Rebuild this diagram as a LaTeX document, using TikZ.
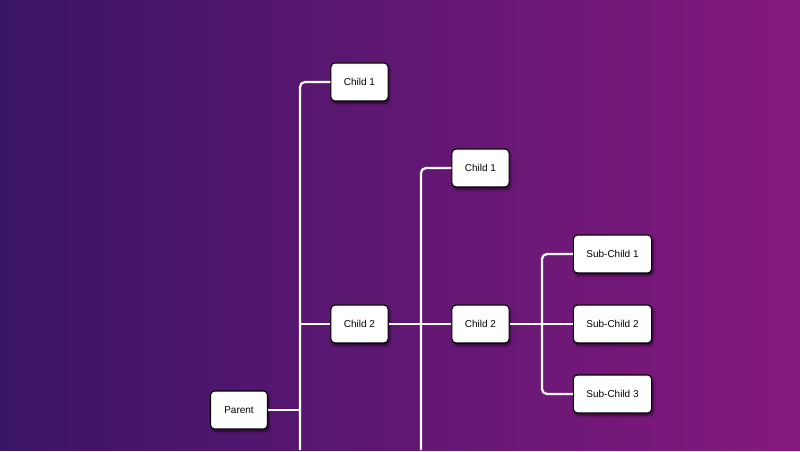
\documentclass[tikz,border=0pt]{standalone}
\usepackage{fontspec}
\setmainfont{Liberation Sans}
\usetikzlibrary{shadows,shadows.blur}
\definecolor{bgleft}{HTML}{3A1566}
\definecolor{bgright}{HTML}{85197E}
\tikzstyle{box} = [draw=black,line width=1.1pt,fill=white,rounded corners=4pt,
	minimum width=57pt,minimum height=38pt,inner xsep=13pt,
	font=\fontsize{10}{12}\selectfont,
	blur shadow={shadow xshift=1.5pt,shadow yshift=-2.5pt,shadow blur steps=6,
		shadow blur extra rounding=1.5pt,shadow opacity=55}]
\tikzstyle{link} = [white,line width=2.2pt,rounded corners=5pt]

\begin{document}
\begin{tikzpicture}[x=1pt,y=-1pt]
		
		% define constants
		\def \colA {359.5}
		\def \colB {480.5}
		\def \colC {612.5}
		
		% Draw the background
		\shade[left color=bgleft,right color=bgright] (0,0) rectangle (800,450);
		
		% Draw the boxes
		\node[box] (parent) at (239,410) {Parent};
		\node[box] (childA) at (\colA,82) {Child 1};
		\node[box] (childB) at (\colA,324) {Child 2};
		\node[box] (nextA) at (\colB,168) {Child 1};
		\node[box] (nextB) at (\colB,324) {Child 2};
		\node[box] (subA) at (\colC,254) {Sub-Child 1};
		\node[box] (subB) at (\colC,324) {Sub-Child 2};
		\node[box] (subC) at (\colC,394) {Sub-Child 3};
		
		% free ends and hubs of the trunks
		\coordinate (endA) at (300,450);
		\coordinate (endB) at (421,450);
		\coordinate (hubC) at (542,324);
		
		% Draw the links
		\draw[link] (childA.west) -| (endA);
		\draw[link] (parent.east) -- (parent.east -| endA);
		\draw[link] (childB.west) -- (childB.west -| endA);
		\draw[link] (childB.east) -- (nextB.west);
		\draw[link] (nextA.west) -| (endB);
		\draw[link] (nextB.east) -- (subB.west);
		\draw[link] (subA.west) -| (hubC) |- (subC.west);
		
		\end{tikzpicture}
\end{document}
